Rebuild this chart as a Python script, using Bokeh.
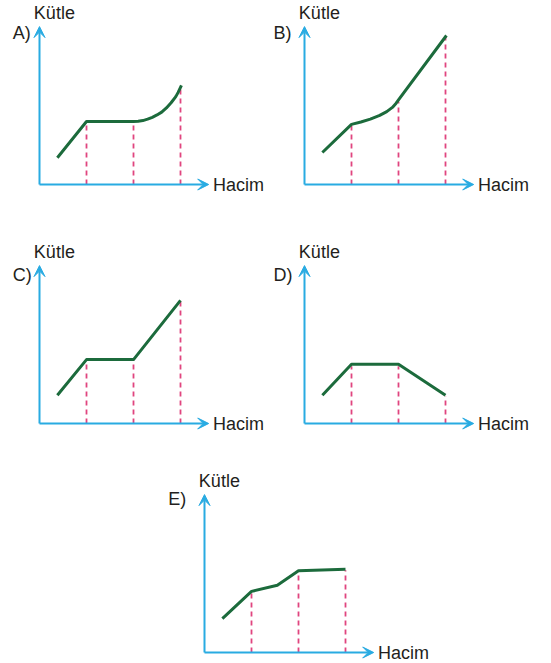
from bokeh.plotting import figure
from bokeh.models import Range1d, Arrow, VeeHead, Label, Spacer
from bokeh.layouts import column, row
from bokeh.embed import file_html
from bokeh.resources import INLINE

# ---- data (volume in arbitrary units, mass in arbitrary units) ----
marks = [1, 2, 3]

vol_A = [0.38, 1.0, 2.0, 2.1, 2.2, 2.3, 2.4, 2.5, 2.6, 2.7, 2.8, 2.9, 2.95, 3.02]
mass_A = [0.57, 1.34, 1.34, 1.345, 1.36, 1.39, 1.43, 1.48, 1.54, 1.63, 1.74, 1.87, 1.96, 2.11]
drop_A = [1.30, 1.30, 2.08]

vol_B = [0.38, 1.0, 1.2, 1.4, 1.6, 1.75, 1.87, 1.95, 2.0, 3.02]
mass_B = [0.68, 1.28, 1.33, 1.39, 1.47, 1.55, 1.64, 1.73, 1.80, 3.17]
drop_B = [1.26, 1.76, 3.15]

vol_C = [0.38, 1.0, 2.0, 3.0]
mass_C = [0.60, 1.36, 1.36, 2.62]
drop_C = [1.32, 1.32, 2.60]

vol_D = [0.38, 1.0, 2.0, 3.0]
mass_D = [0.60, 1.26, 1.26, 0.60]
drop_D = [1.22, 1.22, 0.58]

vol_E = [0.38, 1.0, 1.55, 2.0, 3.0]
mass_E = [0.72, 1.30, 1.43, 1.74, 1.77]
drop_E = [1.26, 1.72, 1.75]

letters = ["A)", "B)", "C)", "D)", "E)"]
y_title = "Kütle"
x_title = "Hacim"

# ---- style ----
BLUE = "#29abe2"
GREEN = "#1c6b3c"
PINK = "#e0457f"
TEXT = "#231f20"
FONT = "Liberation Sans"
U = 47.0  # pixels per unit


def panel(vol, mass, drop, letter, w, h, top, letter_x, letter_y):
    left = 39
    p = figure(width=w, height=h, output_backend="svg", toolbar_location=None,
               x_axis_type=None, y_axis_type=None, min_border=0,
               x_range=Range1d(-left / U, (w - left) / U),
               y_range=Range1d(-(h - top) / U, top / U))
    p.grid.visible = False
    p.outline_line_color = None
    p.background_fill_color = "white"
    p.border_fill_color = "white"

    p.segment(x0=marks, y0=[0, 0, 0], x1=marks, y1=drop,
              line_color=PINK, line_width=1.8, line_dash="5 4")
    p.line(vol, mass, line_color=GREEN, line_width=3, line_join="round")

    p.add_layout(Arrow(end=VeeHead(size=11, fill_color=BLUE, line_color=BLUE),
                       x_start=0, y_start=0, x_end=3.6, y_end=0,
                       line_color=BLUE, line_width=2))
    p.add_layout(Arrow(end=VeeHead(size=11, fill_color=BLUE, line_color=BLUE),
                       x_start=0, y_start=0, x_end=0, y_end=3.36,
                       line_color=BLUE, line_width=2))

    common = dict(text_font=FONT, text_font_size="18px", text_color=TEXT,
                  text_baseline="middle", text_align="left")
    p.add_layout(Label(x=-0.12, y=3.64, text=y_title, **common))
    p.add_layout(Label(x=3.69, y=0, text=x_title, **common))
    p.add_layout(Label(x=letter_x, y=letter_y, text=letter, **common))
    return p


pA = panel(vol_A, mass_A, drop_A, letters[0], 265, 233, 184, -0.57, 3.23)
pB = panel(vol_B, mass_B, drop_B, letters[1], 286, 233, 184, -0.66, 3.23)
pC = panel(vol_C, mass_C, drop_C, letters[2], 265, 235, 190, -0.57, 3.15)
pD = panel(vol_D, mass_D, drop_D, letters[3], 286, 235, 190, -0.66, 3.15)
pE = panel(vol_E, mass_E, drop_E, letters[4], 300, 195, 184, -0.77, 3.26)

layout = column(
    row(pA, pB, spacing=0),
    row(pC, pD, spacing=0),
    row(Spacer(width=165, height=195), pE, spacing=0),
    spacing=0,
)

open("out.html", "w").write(file_html(layout, INLINE))
